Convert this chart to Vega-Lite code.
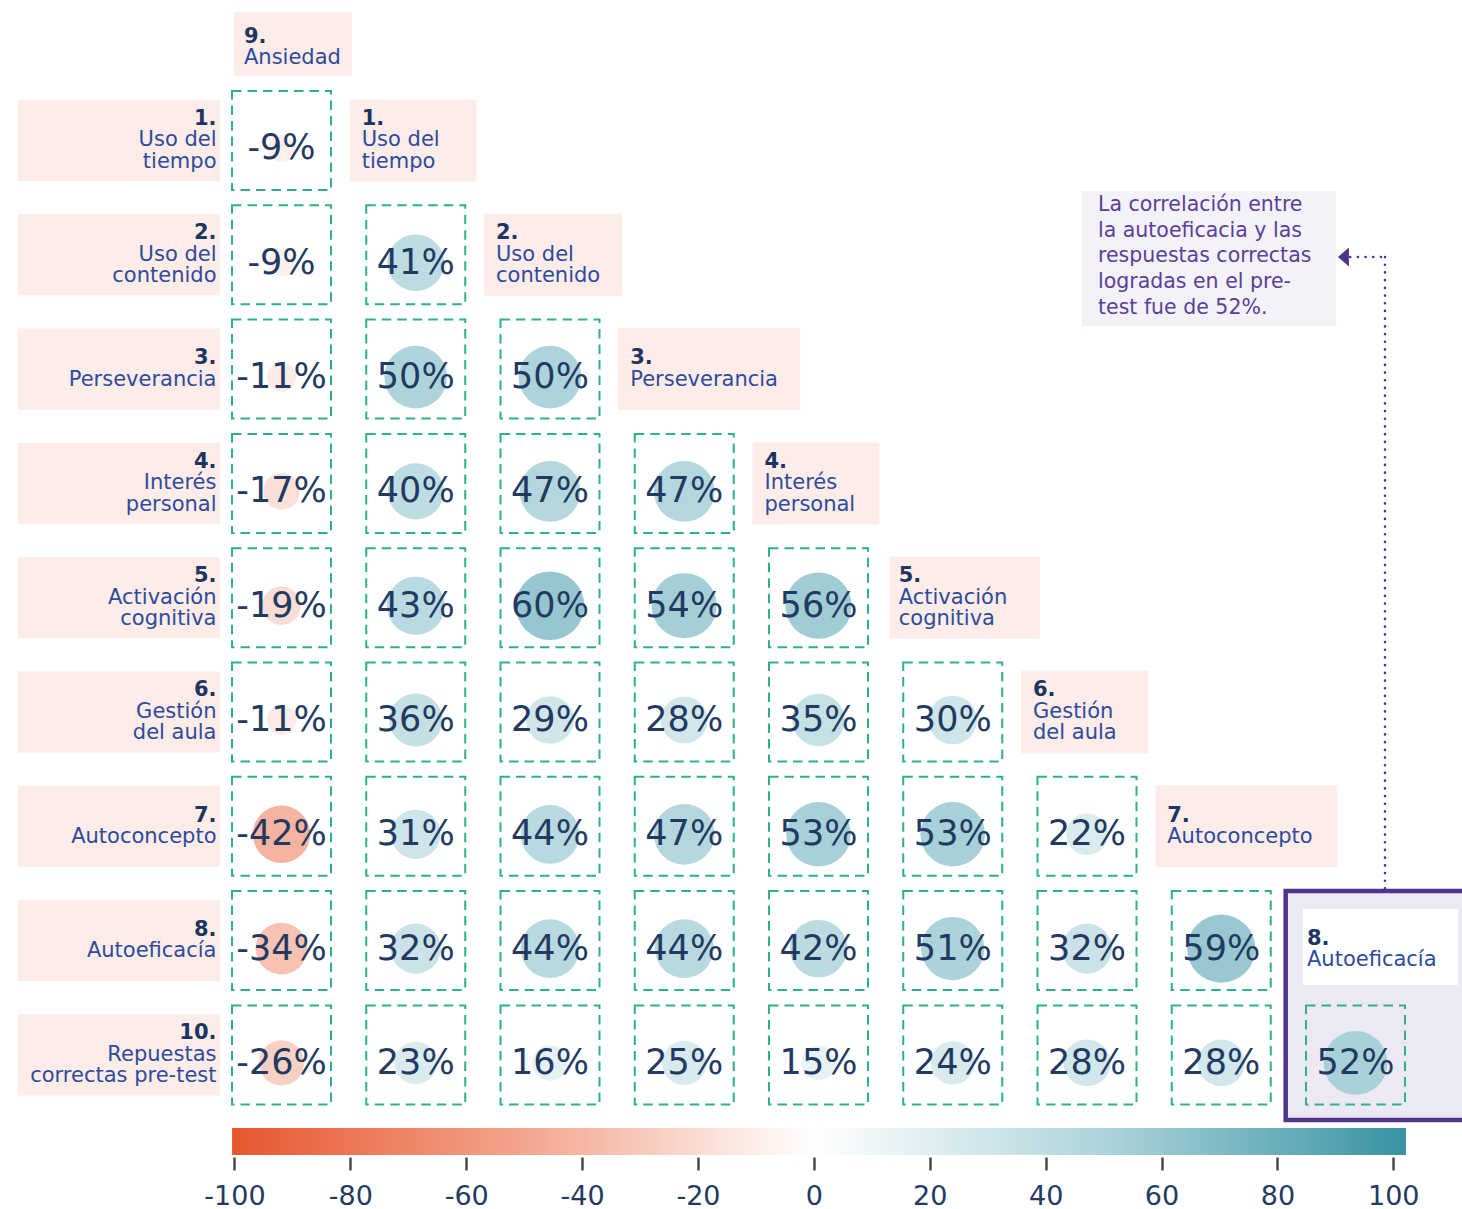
{
  "$schema": "https://vega.github.io/schema/vega-lite/v6.json",
  "width": 1462,
  "height": 1209,
  "autosize": {"type": "none"},
  "padding": 0,
  "background": "#FFFFFF",
  "config": {
    "view": {"stroke": null},
    "font": "DejaVu Sans",
    "locale": {"number": {"decimal": ".", "thousands": ",", "grouping": [3], "currency": ["", ""], "minus": "-"}}
  },
  "datasets": {
    "cells": [
      {"row": 1, "col": 0, "r": -0.09},
      {"row": 2, "col": 0, "r": -0.09}, {"row": 2, "col": 1, "r": 0.41},
      {"row": 3, "col": 0, "r": -0.11}, {"row": 3, "col": 1, "r": 0.50}, {"row": 3, "col": 2, "r": 0.50},
      {"row": 4, "col": 0, "r": -0.17}, {"row": 4, "col": 1, "r": 0.40}, {"row": 4, "col": 2, "r": 0.47}, {"row": 4, "col": 3, "r": 0.47},
      {"row": 5, "col": 0, "r": -0.19}, {"row": 5, "col": 1, "r": 0.43}, {"row": 5, "col": 2, "r": 0.60}, {"row": 5, "col": 3, "r": 0.54}, {"row": 5, "col": 4, "r": 0.56},
      {"row": 6, "col": 0, "r": -0.11}, {"row": 6, "col": 1, "r": 0.36}, {"row": 6, "col": 2, "r": 0.29}, {"row": 6, "col": 3, "r": 0.28}, {"row": 6, "col": 4, "r": 0.35}, {"row": 6, "col": 5, "r": 0.30},
      {"row": 7, "col": 0, "r": -0.42}, {"row": 7, "col": 1, "r": 0.31}, {"row": 7, "col": 2, "r": 0.44}, {"row": 7, "col": 3, "r": 0.47}, {"row": 7, "col": 4, "r": 0.53}, {"row": 7, "col": 5, "r": 0.53}, {"row": 7, "col": 6, "r": 0.22},
      {"row": 8, "col": 0, "r": -0.34}, {"row": 8, "col": 1, "r": 0.32}, {"row": 8, "col": 2, "r": 0.44}, {"row": 8, "col": 3, "r": 0.44}, {"row": 8, "col": 4, "r": 0.42}, {"row": 8, "col": 5, "r": 0.51}, {"row": 8, "col": 6, "r": 0.32}, {"row": 8, "col": 7, "r": 0.59},
      {"row": 9, "col": 0, "r": -0.26}, {"row": 9, "col": 1, "r": 0.23}, {"row": 9, "col": 2, "r": 0.16}, {"row": 9, "col": 3, "r": 0.25}, {"row": 9, "col": 4, "r": 0.15}, {"row": 9, "col": 5, "r": 0.24}, {"row": 9, "col": 6, "r": 0.28}, {"row": 9, "col": 7, "r": 0.28}, {"row": 9, "col": 8, "r": 0.52}
    ],
    "rowlab": [
      {"row": 1, "num": "1.", "name": "Uso del\ntiempo"},
      {"row": 2, "num": "2.", "name": "Uso del\ncontenido"},
      {"row": 3, "num": "3.", "name": "Perseverancia"},
      {"row": 4, "num": "4.", "name": "Interés\npersonal"},
      {"row": 5, "num": "5.", "name": "Activación\ncognitiva"},
      {"row": 6, "num": "6.", "name": "Gestión\ndel aula"},
      {"row": 7, "num": "7.", "name": "Autoconcepto"},
      {"row": 8, "num": "8.", "name": "Autoeficacía"},
      {"row": 9, "num": "10.", "name": "Repuestas\ncorrectas pre-test"}
    ],
    "collab": [
      {"col": 0, "num": "9.", "name": "Ansiedad"},
      {"col": 1, "num": "1.", "name": "Uso del\ntiempo"},
      {"col": 2, "num": "2.", "name": "Uso del\ncontenido"},
      {"col": 3, "num": "3.", "name": "Perseverancia"},
      {"col": 4, "num": "4.", "name": "Interés\npersonal"},
      {"col": 5, "num": "5.", "name": "Activación\ncognitiva"},
      {"col": 6, "num": "6.", "name": "Gestión\ndel aula"},
      {"col": 7, "num": "7.", "name": "Autoconcepto"},
      {"col": 8, "num": "8.", "name": "Autoeficacía"}
    ]
  },
  "layer": [
    {
      "layer": [
        {
          "data": {"values": [{}]},
          "mark": {"type": "rect", "fill": "#ECE9F4", "stroke": "#50348C", "strokeWidth": 4.5},
          "encoding": {
            "x": {"datum": 7.48, "type": "quantitative", "scale": {"domain": [-2.0968, 8.7933], "nice": false, "zero": false}, "axis": null},
            "x2": {"datum": 8.85},
            "y": {"datum": 7.5661, "type": "quantitative", "scale": {"domain": [-0.2292, 10.3482], "nice": false, "zero": false, "reverse": true}, "axis": null},
            "y2": {"datum": 9.5696}
          }
        },
        {
          "data": {"values": [{}]},
          "mark": {"type": "rect", "fill": "#F3F2F8"},
          "encoding": {
            "x": {"datum": 5.9628, "type": "quantitative", "axis": null},
            "x2": {"datum": 7.855},
            "y": {"datum": 1.4418, "type": "quantitative", "axis": null},
            "y2": {"datum": 2.6229}
          }
        },
        {
          "data": {"values": [{}]},
          "mark": {"type": "text", "align": "left", "baseline": "middle", "fontSize": 20.5, "lineHeight": 25.7, "lineBreak": "\n", "color": "#5B3F98"},
          "encoding": {
            "x": {"datum": 6.0819, "type": "quantitative", "axis": null},
            "y": {"datum": 1.5643, "type": "quantitative", "axis": null},
            "text": {"value": "La correlación entre\nla autoeficacia y las\nrespuestas correctas\nlogradas en el pre-\ntest fue de 52%."}
          }
        },
        {
          "data": {"values": [{}]},
          "mark": {"type": "rule", "color": "#50348C", "strokeWidth": 2.6, "strokeDash": [0.1, 7.6], "strokeCap": "round"},
          "encoding": {
            "x": {"datum": 8.2197, "type": "quantitative", "axis": null},
            "y": {"datum": 2.0192, "type": "quantitative", "axis": null},
            "y2": {"datum": 7.5573}
          }
        },
        {
          "data": {"values": [{}]},
          "mark": {"type": "rule", "color": "#50348C", "strokeWidth": 2.6, "strokeDash": [0.1, 7.6], "strokeCap": "round"},
          "encoding": {
            "x": {"datum": 7.96, "type": "quantitative", "axis": null},
            "x2": {"datum": 8.2197},
            "y": {"datum": 2.0192, "type": "quantitative", "axis": null}
          }
        },
        {
          "data": {"values": [{}]},
          "mark": {"type": "point", "shape": "M0.58,-1L-0.58,0L0.58,1Z", "size": 361, "filled": true, "opacity": 1, "color": "#50348C"},
          "encoding": {
            "x": {"datum": 7.9102, "type": "quantitative", "axis": null},
            "y": {"datum": 2.0192, "type": "quantitative", "axis": null}
          }
        },
        {
          "data": {"name": "rowlab"},
          "mark": {"type": "rule", "color": "#FDECE7", "strokeWidth": 81, "strokeCap": "butt"},
          "encoding": {
            "x": {"datum": -1.9628, "type": "quantitative", "axis": null},
            "x2": {"datum": -0.4581},
            "y": {"field": "row", "type": "quantitative", "axis": null}
          }
        },
        {
          "data": {"name": "rowlab"},
          "transform": [{"filter": "indexof(datum.name, '\\n') >= 0"}],
          "mark": {"type": "text", "align": "right", "baseline": "middle", "dy": 0, "fontSize": 21, "lineHeight": 21.5, "lineBreak": "\n", "color": "#2D4B9C"},
          "encoding": {
            "x": {"datum": -0.4842, "type": "quantitative", "axis": null},
            "y": {"field": "row", "type": "quantitative", "axis": null},
            "text": {"field": "name"}
          }
        },
        {
          "data": {"name": "rowlab"},
          "transform": [{"filter": "indexof(datum.name, '\\n') < 0"}],
          "mark": {"type": "text", "align": "right", "baseline": "middle", "dy": 10.75, "fontSize": 21, "color": "#2D4B9C"},
          "encoding": {
            "x": {"datum": -0.4842, "type": "quantitative", "axis": null},
            "y": {"field": "row", "type": "quantitative", "axis": null},
            "text": {"field": "name"}
          }
        },
        {
          "data": {"name": "rowlab"},
          "transform": [{"filter": "indexof(datum.name, '\\n') >= 0"}],
          "mark": {"type": "text", "align": "right", "baseline": "middle", "dy": -21.5, "fontSize": 21, "fontWeight": "bold", "color": "#1E3563"},
          "encoding": {
            "x": {"datum": -0.4842, "type": "quantitative", "axis": null},
            "y": {"field": "row", "type": "quantitative", "axis": null},
            "text": {"field": "num"}
          }
        },
        {
          "data": {"name": "rowlab"},
          "transform": [{"filter": "indexof(datum.name, '\\n') < 0"}],
          "mark": {"type": "text", "align": "right", "baseline": "middle", "dy": -10.75, "fontSize": 21, "fontWeight": "bold", "color": "#1E3563"},
          "encoding": {
            "x": {"datum": -0.4842, "type": "quantitative", "axis": null},
            "y": {"field": "row", "type": "quantitative", "axis": null},
            "text": {"field": "num"}
          }
        },
        {
          "data": {"name": "collab"},
          "transform": [{"filter": "datum.col == 1 || datum.col == 4 || datum.col == 6"}],
          "mark": {"type": "rule", "color": "#FDECE7", "strokeWidth": 82, "strokeCap": "butt", "xOffset": -66, "x2Offset": 61},
          "encoding": {
            "x": {"field": "col", "type": "quantitative", "axis": null},
            "x2": {"field": "col"},
            "y": {"field": "col", "type": "quantitative", "axis": null}
          }
        },
        {
          "data": {"name": "collab"},
          "transform": [{"filter": "datum.col == 2"}],
          "mark": {"type": "rule", "color": "#FDECE7", "strokeWidth": 82, "strokeCap": "butt", "xOffset": -66, "x2Offset": 72},
          "encoding": {
            "x": {"field": "col", "type": "quantitative", "axis": null},
            "x2": {"field": "col"},
            "y": {"field": "col", "type": "quantitative", "axis": null}
          }
        },
        {
          "data": {"name": "collab"},
          "transform": [{"filter": "datum.col == 5"}],
          "mark": {"type": "rule", "color": "#FDECE7", "strokeWidth": 82, "strokeCap": "butt", "xOffset": -63, "x2Offset": 87},
          "encoding": {
            "x": {"field": "col", "type": "quantitative", "axis": null},
            "x2": {"field": "col"},
            "y": {"field": "col", "type": "quantitative", "axis": null}
          }
        },
        {
          "data": {"name": "collab"},
          "transform": [{"filter": "datum.col == 3 || datum.col == 7"}],
          "mark": {"type": "rule", "color": "#FDECE7", "strokeWidth": 82, "strokeCap": "butt", "xOffset": -66, "x2Offset": 116},
          "encoding": {
            "x": {"field": "col", "type": "quantitative", "axis": null},
            "x2": {"field": "col"},
            "y": {"field": "col", "type": "quantitative", "axis": null}
          }
        },
        {
          "data": {"name": "collab"},
          "transform": [{"filter": "datum.col == 0"}],
          "mark": {"type": "rule", "color": "#FDECE7", "strokeWidth": 64, "strokeCap": "butt", "xOffset": -47.5, "x2Offset": 70.5, "yOffset": 17.8},
          "encoding": {
            "x": {"field": "col", "type": "quantitative", "axis": null},
            "x2": {"field": "col"},
            "y": {"field": "col", "type": "quantitative", "axis": null}
          }
        },
        {
          "data": {"name": "collab"},
          "transform": [{"filter": "datum.col == 8"}],
          "mark": {"type": "rule", "color": "#FFFFFF", "strokeWidth": 76, "strokeCap": "butt", "xOffset": -52.5, "x2Offset": 102.5, "yOffset": 6.4},
          "encoding": {
            "x": {"field": "col", "type": "quantitative", "axis": null},
            "x2": {"field": "col"},
            "y": {"field": "col", "type": "quantitative", "axis": null}
          }
        },
        {
          "data": {"name": "collab"},
          "transform": [{"filter": "datum.col >= 1 && datum.col <= 7 && indexof(datum.name, '\\n') >= 0"}],
          "mark": {"type": "text", "align": "left", "baseline": "middle", "dx": -54, "dy": 0, "fontSize": 21, "lineHeight": 21.5, "lineBreak": "\n", "color": "#2D4B9C"},
          "encoding": {
            "x": {"field": "col", "type": "quantitative", "axis": null},
            "y": {"field": "col", "type": "quantitative", "axis": null},
            "text": {"field": "name"}
          }
        },
        {
          "data": {"name": "collab"},
          "transform": [{"filter": "datum.col >= 1 && datum.col <= 7 && indexof(datum.name, '\\n') < 0"}],
          "mark": {"type": "text", "align": "left", "baseline": "middle", "dx": -54, "dy": 10.75, "fontSize": 21, "color": "#2D4B9C"},
          "encoding": {
            "x": {"field": "col", "type": "quantitative", "axis": null},
            "y": {"field": "col", "type": "quantitative", "axis": null},
            "text": {"field": "name"}
          }
        },
        {
          "data": {"name": "collab"},
          "transform": [{"filter": "datum.col >= 1 && datum.col <= 7 && indexof(datum.name, '\\n') >= 0"}],
          "mark": {"type": "text", "align": "left", "baseline": "middle", "dx": -54, "dy": -21.5, "fontSize": 21, "fontWeight": "bold", "color": "#1E3563"},
          "encoding": {
            "x": {"field": "col", "type": "quantitative", "axis": null},
            "y": {"field": "col", "type": "quantitative", "axis": null},
            "text": {"field": "num"}
          }
        },
        {
          "data": {"name": "collab"},
          "transform": [{"filter": "datum.col >= 1 && datum.col <= 7 && indexof(datum.name, '\\n') < 0"}],
          "mark": {"type": "text", "align": "left", "baseline": "middle", "dx": -54, "dy": -10.75, "fontSize": 21, "fontWeight": "bold", "color": "#1E3563"},
          "encoding": {
            "x": {"field": "col", "type": "quantitative", "axis": null},
            "y": {"field": "col", "type": "quantitative", "axis": null},
            "text": {"field": "num"}
          }
        },
        {
          "data": {"name": "collab"},
          "transform": [{"filter": "datum.col == 0"}],
          "mark": {"type": "text", "align": "left", "baseline": "middle", "dx": -37.5, "dy": 32, "fontSize": 21, "color": "#2D4B9C"},
          "encoding": {
            "x": {"field": "col", "type": "quantitative", "axis": null},
            "y": {"field": "col", "type": "quantitative", "axis": null},
            "text": {"field": "name"}
          }
        },
        {
          "data": {"name": "collab"},
          "transform": [{"filter": "datum.col == 0"}],
          "mark": {"type": "text", "align": "left", "baseline": "middle", "dx": -37.5, "dy": 10.5, "fontSize": 21, "fontWeight": "bold", "color": "#1E3563"},
          "encoding": {
            "x": {"field": "col", "type": "quantitative", "axis": null},
            "y": {"field": "col", "type": "quantitative", "axis": null},
            "text": {"field": "num"}
          }
        },
        {
          "data": {"name": "collab"},
          "transform": [{"filter": "datum.col == 8"}],
          "mark": {"type": "text", "align": "left", "baseline": "middle", "dx": -48.5, "dy": 19.5, "fontSize": 21, "color": "#2D4B9C"},
          "encoding": {
            "x": {"field": "col", "type": "quantitative", "axis": null},
            "y": {"field": "col", "type": "quantitative", "axis": null},
            "text": {"field": "name"}
          }
        },
        {
          "data": {"name": "collab"},
          "transform": [{"filter": "datum.col == 8"}],
          "mark": {"type": "text", "align": "left", "baseline": "middle", "dx": -48.5, "dy": -2, "fontSize": 21, "fontWeight": "bold", "color": "#1E3563"},
          "encoding": {
            "x": {"field": "col", "type": "quantitative", "axis": null},
            "y": {"field": "col", "type": "quantitative", "axis": null},
            "text": {"field": "num"}
          }
        },
        {
          "data": {"name": "cells"},
          "mark": {"type": "point", "shape": "square", "size": 9801, "filled": false, "opacity": 1, "color": "#2DB380", "strokeWidth": 2, "strokeDash": [9.5, 6]},
          "encoding": {
            "x": {"field": "col", "type": "quantitative", "axis": null},
            "y": {"field": "row", "type": "quantitative", "axis": null}
          }
        },
        {
          "data": {"name": "cells"},
          "transform": [{"filter": "datum.r > 0"}],
          "mark": {"type": "circle", "opacity": 1, "yOffset": 8},
          "encoding": {
            "x": {"field": "col", "type": "quantitative", "axis": null},
            "y": {"field": "row", "type": "quantitative", "axis": null},
            "size": {"field": "r", "type": "quantitative", "scale": {"type": "linear", "domain": [0, 1], "range": [0, 7854], "zero": true, "nice": false}, "legend": null},
            "color": {"field": "r", "type": "quantitative", "scale": {"domain": [-1, -0.5, 0, 0.5, 1], "range": ["#E8562E", "#F3A58E", "#FFFFFF", "#AED4DB", "#3893A4"], "interpolate": "rgb"}, "legend": null}
          }
        },
        {
          "data": {"name": "cells"},
          "transform": [{"filter": "datum.r < 0"}],
          "mark": {"type": "circle", "opacity": 1, "yOffset": 8},
          "encoding": {
            "x": {"field": "col", "type": "quantitative", "axis": null},
            "y": {"field": "row", "type": "quantitative", "axis": null},
            "size": {"field": "r", "type": "quantitative", "scale": {"type": "linear", "domain": [-1, 0], "range": [7854, 0], "nice": false}, "legend": null},
            "color": {"field": "r", "type": "quantitative", "scale": {"domain": [-1, -0.5, 0, 0.5, 1], "range": ["#E8562E", "#F3A58E", "#FFFFFF", "#AED4DB", "#3893A4"], "interpolate": "rgb"}, "legend": null}
          }
        },
        {
          "data": {"name": "cells"},
          "mark": {"type": "text", "align": "center", "baseline": "middle", "dy": 8, "fontSize": 35, "color": "#223A62"},
          "encoding": {
            "x": {"field": "col", "type": "quantitative", "axis": null},
            "y": {"field": "row", "type": "quantitative", "axis": null},
            "text": {"field": "r", "type": "quantitative", "format": ".0%"}
          }
        }
      ],
      "resolve": {"scale": {"size": "independent"}}
    },
    {
      "data": {"values": [{}]},
      "mark": {"type": "rect", "fill": {"gradient": "linear", "x1": 0, "y1": 0, "x2": 1, "y2": 0, "stops": [{"offset": 0, "color": "#E8562E"}, {"offset": 0.2488, "color": "#F3A58E"}, {"offset": 0.4956, "color": "#FFFFFF"}, {"offset": 0.7424, "color": "#AED4DB"}, {"offset": 1, "color": "#3893A4"}]}},
      "encoding": {
        "x": {
          "datum": -100.41, "type": "quantitative",
          "scale": {"domain": [-140.46, 111.86], "nice": false, "zero": false},
          "axis": {"orient": "bottom", "offset": -52, "values": [-100, -80, -60, -40, -20, 0, 20, 40, 60, 80, 100], "format": "d", "domain": false, "grid": false, "ticks": true, "tickSize": 13, "tickWidth": 2.5, "tickColor": "#4A4A4A", "labelFontSize": 27, "labelColor": "#223A62", "labelPadding": 13, "labelFlush": false, "labelOverlap": false, "title": null}
        },
        "x2": {"datum": 102.19},
        "y": {"datum": 9.6395, "type": "quantitative", "scale": {"domain": [-0.2292, 10.3482], "nice": false, "zero": false, "reverse": true}, "axis": null},
        "y2": {"datum": 9.8757}
      }
    }
  ],
  "resolve": {"scale": {"x": "independent"}, "axis": {"x": "independent"}}
}
